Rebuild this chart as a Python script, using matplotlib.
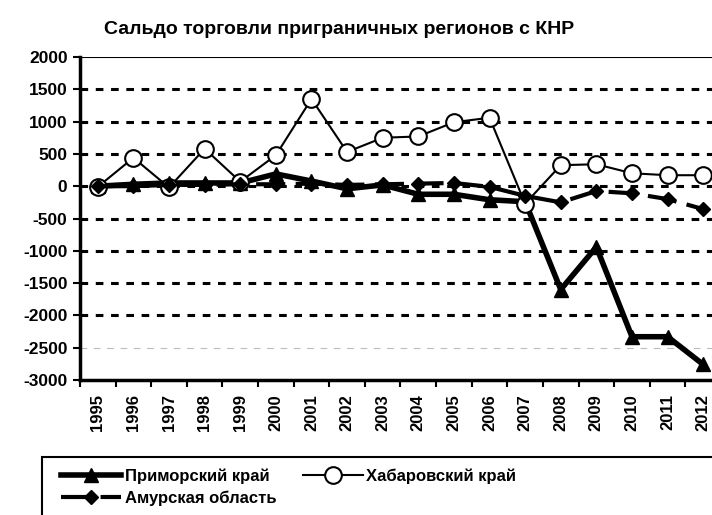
import matplotlib
matplotlib.use("Agg")
import matplotlib.pyplot as plt
from matplotlib.patches import Rectangle

years = [str(y) for y in range(1995, 2013)]
primorsky = [0, 30, 50, 50, 50, 190, 80, -40, 20, -125, -125, -210, -240,
             -1600, -940, -2330, -2330, -2760]
khabarovsk = [-10, 440, -20, 580, 70, 480, 1350, 530, 750, 770, 990, 1060,
              -270, 325, 340, 200, 170, 170]
amur = [0, 0, 20, 20, 30, 30, 40, 20, 30, 40, 50, -10, -150,
        -250, -75, -110, -200, -355]
yticks = list(range(-3000, 2001, 500))

plt.rcParams["font.family"] = ["Liberation Sans", "DejaVu Sans"]
plt.rcParams["font.weight"] = "bold"

fig = plt.figure(figsize=(7.12, 5.15), dpi=100)
ax = fig.add_axes([80 / 712, 135 / 515, 641 / 712, 323 / 515])

x = list(range(len(years)))

# gridlines
for v in yticks[1:-1]:
    if v == -2500:
        ax.axhline(v, color="#bbbbbb", lw=0.8, ls=(0, (6, 6)), zorder=1)
    else:
        ax.axhline(v, color="black", lw=2.2, ls=(0, (2.5, 2.5)), zorder=1)
ax.axhline(2000, color="black", lw=1.5, zorder=1)

l1, = ax.plot(x, primorsky, color="black", lw=4, marker="^", markersize=10,
              label="Приморский край", zorder=3)
l2, = ax.plot(x, khabarovsk, color="black", lw=1.5, marker="o", markersize=12,
              markerfacecolor="white", markeredgewidth=1.5,
              label="Хабаровский край", zorder=4)
l3, = ax.plot(x, amur, color="black", lw=3, ls=(0, (7, 2.5)), marker="D",
              markersize=7.5, label="Амурская область", zorder=5)

ax.set_xlim(-0.5, len(years) - 0.5)
ax.set_ylim(-3000, 2000)
ax.set_yticks(yticks)
ax.set_yticklabels([str(v) for v in yticks], fontsize=12.5, fontweight="bold")
ax.set_xticks([i - 0.5 for i in x])
ax.set_xticklabels([])
ax.set_xticks(x, minor=True)
ax.set_xticklabels(years, minor=True, rotation=90, fontsize=12,
                   fontweight="bold")
ax.tick_params(axis="x", which="minor", length=0, pad=10)
ax.tick_params(axis="x", which="major", length=5, width=1.5, direction="out")
ax.tick_params(axis="y", length=5, width=1.5, direction="out", pad=4)

ax.spines["left"].set_linewidth(2.5)
ax.spines["bottom"].set_linewidth(2.5)
ax.spines["top"].set_visible(False)
ax.spines["right"].set_visible(False)

fig.text(339 / 712, 1 - 30 / 515, "Сальдо торговли приграничных регионов с КНР",
         ha="center", va="center", fontsize=14, fontweight="bold")

# legend frame runs past the right edge like in the source
fig.patches.append(Rectangle((42 / 712, -0.01), 700 / 712, 1.01 - 457 / 515,
                             transform=fig.transFigure, fill=False,
                             edgecolor="black", lw=1.5))
leg = fig.legend([l1, l3, l2],
                 ["Приморский край", "Амурская область", "Хабаровский край"],
                 loc="upper left", bbox_to_anchor=(48 / 712, 1 - 455 / 515),
                 ncol=2, frameon=False, fontsize=12,
                 handlelength=3.6, columnspacing=1.6, borderpad=0.3,
                 labelspacing=0.4, handletextpad=0.2)

fig.savefig("out.png", dpi=100)
